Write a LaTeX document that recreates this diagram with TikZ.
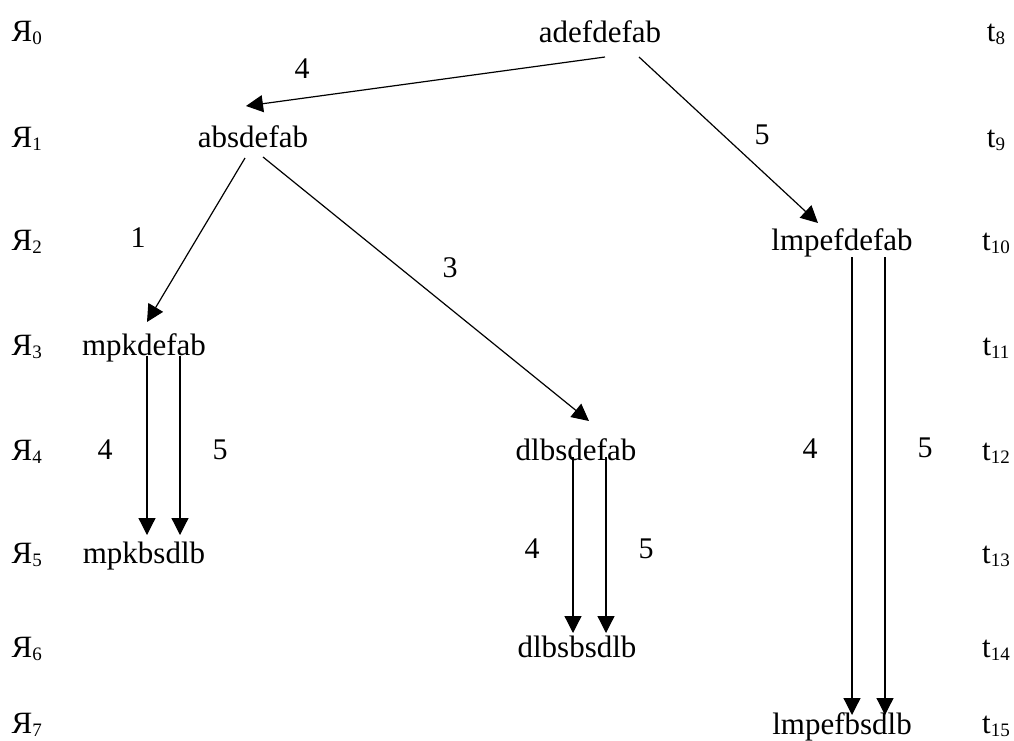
\documentclass[tikz,border=0pt]{standalone}
\usepackage{fontspec}
\setmainfont{Liberation Serif}
\usetikzlibrary{arrows.meta}

\newcommand\lowidx[1]{\raisebox{-3pt}{\fontsize{19}{19}\selectfont #1}}

\begin{document}
\begin{tikzpicture}[x = 1pt, y = -1pt, > = {Triangle[length=17pt, width=17pt]},
	line width = 1.2pt,
	word/.style = {anchor = base, inner sep = 0pt, font = \fontsize{31}{36}\selectfont},
	num/.style = {inner sep = 0pt, font = \fontsize{30}{36}\selectfont}]

	% Page
	
	\useasboundingbox (0, 0) rectangle (1014, 740);

	% Row labels
	
	\foreach \i/\y in {0/41, 1/147, 2/250, 3/355, 4/460, 5/563, 6/657, 7/733} {
		\pgfmathtruncatemacro\T{\i + 8}
		\node [word, anchor = base west] (ya\i) at (11, \y) {Я\lowidx{\i}};
		\node [word] (t\i) at (996, \y) {t\lowidx{\T}};
	}

	% Words
	
	\node [word] (w0) at (600, 42) {adefdefab};
	\node [word] (w1) at (253, 147) {absdefab};
	\node [word] (w2) at (842, 250) {lmpefdefab};
	\node [word] (w3) at (144, 355) {mpkdefab};
	\node [word] (w4) at (576, 460) {dlbsdefab};
	\node [word] (w5) at (144, 563) {mpkbsdlb};
	\node [word] (w6) at (577, 657) {dlbsbsdlb};
	\node [word] (w7) at (842, 734) {lmpefbsdlb};

	% Transitions
	
	\draw [->] ([shift={(5, 15)}] w0.base) -- ([shift={(-7, -41)}] w1.base);
	\draw [->] ([shift={(39, 15)}] w0.base) -- ([shift={(-24, -27)}] w2.base);
	\draw [->] ([shift={(-8, 11)}] w1.base) -- ([shift={(3, -33)}] w3.base);
	\draw [->] ([shift={(10, 10)}] w1.base) -- ([shift={(13, -39)}] w4.base);
	
	\foreach \a/\b/\dx/\ex/\s/\e in {w3/w5/3/3/1/-28, w3/w5/36/36/1/-28,
		w4/w6/-3/-4/-3/-24, w4/w6/30/29/-3/-24,
		w2/w7/10/10/7/-19, w2/w7/43/43/7/-19}
		\draw [->] ([shift={(\dx, \s)}] \a.base) -- ([shift={(\ex, \e)}] \b.base);

	% Transition labels
	
	\node [num] (n01) at (302, 69) {4};
	\node [num] (n02) at (762, 135) {5};
	\node [num] (n13) at (138, 238) {1};
	\node [num] (n14) at (450, 268) {3};
	\node [num] (n35a) at (105, 450) {4};
	\node [num] (n35b) at (220, 450) {5};
	\node [num] (n46a) at (532, 549) {4};
	\node [num] (n46b) at (646, 549) {5};
	\node [num] (n27a) at (810, 449) {4};
	\node [num] (n27b) at (925, 448) {5};

\end{tikzpicture}
\end{document}
